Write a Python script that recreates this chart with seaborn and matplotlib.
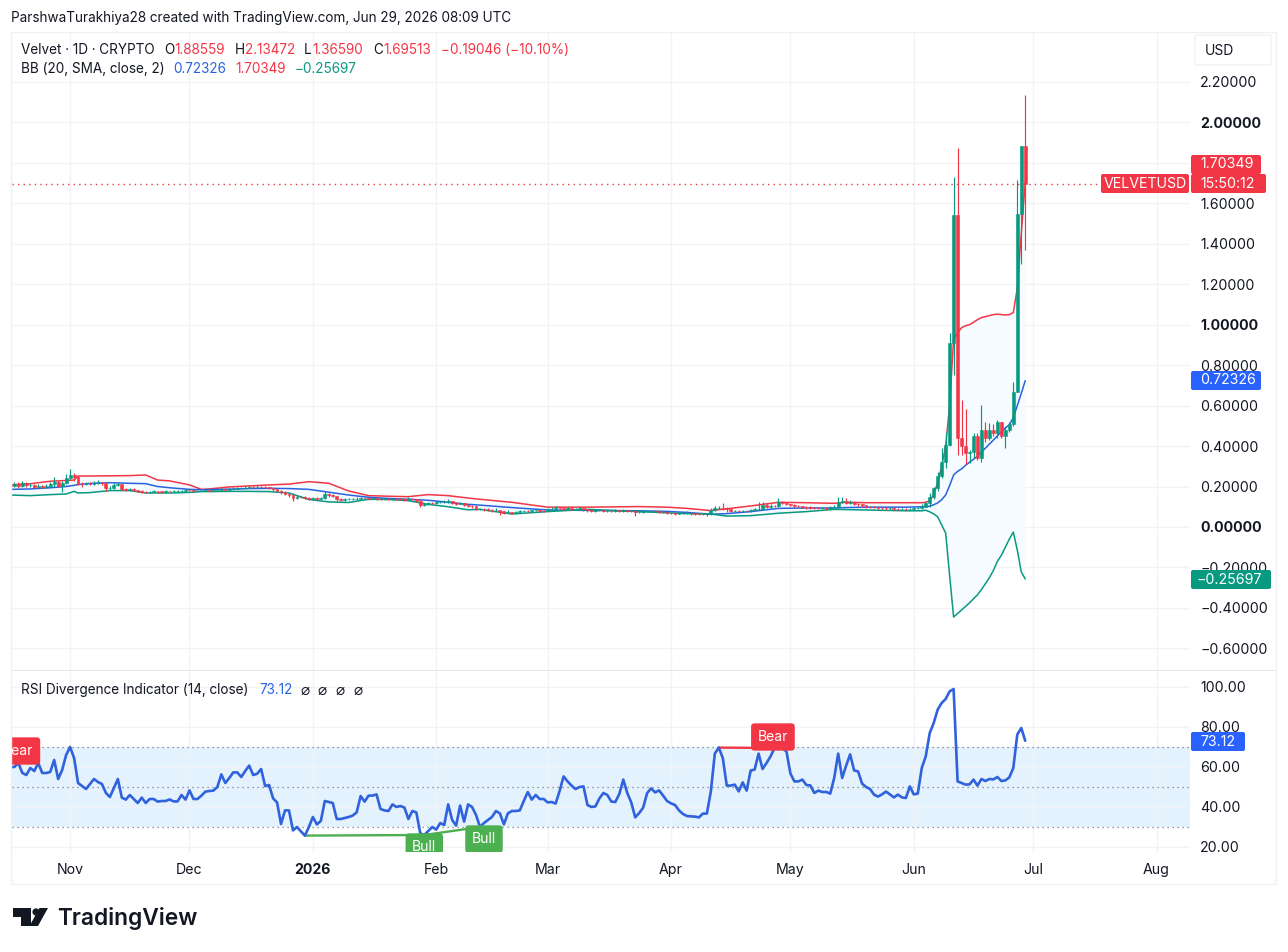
import numpy as np
import pandas as pd
import seaborn as sns
import matplotlib.pyplot as plt
from matplotlib.patches import FancyBboxPatch, Polygon, Circle, Rectangle
from matplotlib.transforms import Affine2D

# daily candles, day 0 = Nov 1 2025, first candle is day -15
close = [
    .205,.212,.203,.216,.206,.208,.200,.205,.197,.204,
    .212,.221,.204,.216,.241,.257,.249,.213,.212,.215,
    .214,.217,.220,.215,.191,.192,.208,.212,.188,.183,
    .186,.184,.178,.175,.173,.174,.178,.176,.175,.177,
    .176,.178,.179,.180,.183,.182,.176,.178,.180,.181,
    .180,.182,.183,.186,.185,.187,.190,.191,.193,.194,
    .199,.198,.200,.199,.197,.195,.187,.180,.172,.165,
    .160,.145,.150,.148,.145,.140,.142,.140,.143,.163,
    .158,.155,.137,.135,.136,.137,.139,.140,.143,.141,
    .140,.142,.140,.139,.140,.138,.139,.137,.136,.135,
    .140,.137,.130,.109,.112,.120,.118,.122,.124,.125,
    .128,.118,.115,.119,.107,.105,.102,.090,.090,.088,
    .085,.083,.086,.078,.070,.076,.070,.075,.080,.081,
    .079,.082,.083,.081,.080,.087,.090,.093,.092,.091,
    .093,.090,.091,.092,.087,.082,.081,.082,.083,.081,
    .081,.080,.082,.080,.083,.081,.079,.072,.075,.078,
    .078,.079,.077,.076,.074,.068,.067,.065,.067,.070,
    .071,.067,.066,.065,.064,.064,.084,.093,.096,.094,
    .087,.080,.080,.079,.081,.080,.084,.088,.090,.109,
    .100,.105,.103,.125,.118,.115,.108,.105,.103,.100,
    .098,.096,.094,.093,.095,.093,.098,.100,.125,.130,
    .120,.124,.115,.112,.108,.100,.099,.097,.095,.094,
    .092,.093,.091,.090,.091,.090,.091,.092,.093,.098,
    .117,.150,.192,.250,.319,.405,.908,1.542,.438,.400,
    .366,.372,.450,.340,.480,.440,.480,.464,.520,.450,
    .480,.510,.668,1.546,1.885,1.695,
]
high = [
    .240,.222,.220,.225,.222,.216,.212,.214,.208,.212,
    .222,.245,.228,.226,.262,.285,.268,.252,.224,.222,
    .224,.226,.232,.224,.218,.204,.218,.222,.212,.192,
    .192,.194,.184,.182,.178,.180,.184,.180,.180,.182,
    .180,.182,.184,.184,.188,.188,.182,.182,.184,.185,
    .186,.186,.188,.192,.192,.194,.196,.198,.200,.202,
    .204,.204,.206,.204,.202,.200,.196,.190,.182,.176,
    .170,.168,.158,.154,.152,.148,.150,.146,.148,.180,
    .168,.162,.155,.142,.142,.142,.144,.146,.150,.146,
    .146,.148,.146,.144,.145,.144,.144,.142,.142,.142,
    .146,.144,.140,.132,.118,.125,.124,.128,.130,.132,
    .136,.130,.122,.124,.120,.110,.108,.105,.096,.094,
    .092,.090,.092,.086,.080,.082,.076,.080,.086,.086,
    .084,.086,.090,.086,.084,.096,.098,.102,.100,.096,
    .098,.096,.096,.098,.095,.090,.086,.088,.090,.086,
    .086,.085,.088,.085,.088,.086,.084,.080,.080,.084,
    .083,.084,.082,.080,.080,.076,.072,.070,.072,.075,
    .078,.074,.071,.070,.068,.068,.095,.105,.106,.118,
    .100,.090,.085,.084,.086,.085,.090,.094,.122,.122,
    .118,.112,.110,.143,.128,.122,.116,.112,.108,.106,
    .104,.102,.100,.098,.100,.098,.104,.110,.148,.150,
    .142,.134,.130,.118,.115,.108,.106,.102,.100,.098,
    .098,.098,.096,.096,.096,.095,.096,.098,.100,.112,
    .125,.167,.200,.274,.390,.470,.960,1.730,1.875,.628,
    .581,.380,.463,.463,.603,.520,.516,.510,.530,.520,
    .496,.520,.719,1.716,1.885,2.135,
]
low = [
    .195,.198,.194,.200,.198,.198,.194,.196,.191,.193,
    .199,.200,.198,.172,.214,.236,.226,.208,.200,.208,
    .208,.209,.212,.208,.178,.182,.189,.205,.182,.176,
    .178,.178,.172,.170,.168,.168,.172,.170,.170,.172,
    .172,.172,.174,.175,.176,.176,.172,.174,.176,.176,
    .176,.178,.180,.181,.181,.183,.184,.187,.188,.190,
    .192,.194,.195,.193,.192,.190,.180,.172,.164,.158,
    .150,.130,.140,.142,.139,.135,.135,.134,.136,.140,
    .150,.148,.130,.130,.130,.132,.134,.135,.136,.136,
    .134,.136,.135,.134,.134,.133,.134,.132,.131,.130,
    .132,.131,.122,.100,.104,.108,.112,.116,.118,.120,
    .120,.112,.108,.112,.102,.098,.096,.085,.084,.080,
    .078,.076,.080,.060,.064,.068,.065,.068,.074,.076,
    .074,.076,.078,.076,.075,.078,.084,.086,.087,.086,
    .086,.085,.086,.086,.080,.076,.076,.076,.078,.076,
    .076,.074,.076,.075,.076,.075,.072,.056,.068,.071,
    .073,.073,.072,.070,.068,.062,.062,.060,.062,.064,
    .066,.061,.060,.060,.058,.056,.058,.080,.088,.084,
    .076,.074,.074,.074,.076,.074,.076,.082,.084,.086,
    .092,.096,.098,.100,.112,.108,.102,.100,.098,.094,
    .090,.090,.088,.088,.088,.086,.090,.094,.096,.118,
    .112,.112,.108,.106,.100,.094,.092,.092,.090,.088,
    .086,.086,.085,.085,.085,.084,.085,.086,.088,.090,
    .100,.100,.140,.180,.240,.290,.400,.750,.355,.355,
    .310,.315,.340,.330,.320,.420,.430,.450,.440,.440,
    .390,.470,.500,.668,1.300,1.370,
]

bb_days = [
    -15,-10,-5,-1,1,2,5,10,15,19,22,25,30,33,35,40,45,50,55,60,65,70,75,80,85,90,95,100,
    103,111,120,130,143,150,155,161,165,171,178,185,192,195,200,205,210,214,
    215,216,217,218,219,220,221,222,223,224,225,226,227,228,229,230,231,232,233,234,235,236,237,238,239,240,
]
bb_upper = [
    .208,.214,.226,.230,.232,.252,.252,.253,.254,.257,.232,.228,.208,.186,.188,.198,.203,.208,.212,.224,.216,.178,.155,.152,.150,.160,.155,.143,
    .137,.122,.098,.098,.101,.098,.092,.081,.090,.104,.122,.120,.117,.122,.120,.120,.120,.120,
    .122,.13,.16,.22,.30,.40,.60,.93,.96,.985,.995,1.0,1.012,1.025,1.035,1.04,1.045,1.05,1.052,1.05,1.048,1.05,1.06,1.18,1.45,1.70349,
]
bb_mid = [
    .186,.188,.194,.200,.206,.210,.215,.219,.216,.214,.200,.194,.186,.184,.185,.187,.190,.191,.190,.186,.172,.158,.147,.141,.137,.132,.122,.112,
    .108,.096,.084,.082,.080,.077,.072,.063,.066,.076,.092,.094,.094,.096,.098,.098,.098,.100,
    .100,.103,.110,.119,.135,.158,.205,.257,.275,.287,.305,.32,.335,.35,.37,.39,.41,.43,.45,.47,.49,.505,.54,.60,.66,.72326,
]
bb_lower = [
    .158,.155,.160,.163,.176,.168,.170,.180,.180,.168,.168,.168,.171,.175,.175,.176,.176,.175,.168,.136,.124,.121,.137,.136,.130,.112,.100,.085,
    .087,.064,.076,.087,.076,.070,.066,.064,.054,.056,.068,.076,.087,.086,.084,.082,.080,.080,
    .083,.075,.065,.05,.01,-.03,-.24,-.445,-.428,-.41,-.393,-.375,-.355,-.335,-.31,-.28,-.25,-.215,-.17,-.14,-.10,-.06,-.025,-.114,-.222,-.25697,
]

rsi = [
    60,60,62,57,56,59.5,58,62,57,57,
    57.5,63.5,54,58.5,66,70,64.5,52,50.5,49,
    51.5,54,52.5,51.5,47,45,49.5,54,44.7,43.7,
    46,44,42,44.7,42,44,44,42.7,43,43,
    43.8,42.8,42.8,46,43.7,48.3,44,44,45.7,47.7,
    48,48.2,50,56.3,52,54.5,57.3,57.3,55,58,
    60.7,56,56.6,59,50.5,51,44.3,42.3,31.5,38.3,
    38.3,28.3,30,27.8,25.7,30,35,31.3,33,43,
    42.5,42,34,34,34.5,35,35.7,37.3,45.5,42.7,
    45.7,45.7,46.3,39,38.3,38,41.3,40,40.5,39.7,
    34,38,37.3,26.8,26,28,30,28.7,32,31,
    41.3,33.5,30.7,40.7,32.7,41.3,40,36,30,32,
    33.5,35,38,36.8,31.3,36.8,38,38,
    38.3,43,47.5,43.7,46,44,44,42.3,42.5,41.7,
    48,55.3,52.8,50.7,49,50,50.3,41,40,40.3,
    44.3,47,46,42.7,42.5,46.5,53.7,47,42.3,34.8,
    37,39.7,47,49.3,47.3,48.3,45.7,43,41.8,41,
    38.3,36.5,35.5,35.3,35.2,34.8,36.7,36.7,47.8,66.7,
    69.7,64.5,50.7,50.7,51.2,47.8,52.3,48.2,58.2,58.7,
    66.7,59,62,65.3,69.5,69.7,69.2,67.8,56.7,52.8,
    52.8,53.7,51,50.8,47,48.2,47.5,47.5,46.7,54.5,
    66.7,54.5,60.7,66.3,58.3,57.8,51.7,50,49,46.2,
    45.2,46.3,47.7,46.3,44.8,46.2,44.8,44.5,50.3,46.3,
    46.7,59.5,65.3,77,82,88.7,92,94,97.8,99,
    52.8,52,51.2,51.3,53.7,50.7,54,53,54,53.8,
    55,53,53.3,54.8,59.5,76.2,79.5,73.12,
]

price_ticks = [2.2,2.0,1.8,1.6,1.4,1.2,1.0,0.8,0.6,0.4,0.2,0.0,-0.2,-0.4,-0.6]
rsi_ticks = [100,80,60,40,20]
month_days = [0,30,61,92,120,151,181,212,242,273]
month_labels = ['Nov','Dec','2026','Feb','Mar','Apr','May','Jun','Jul','Aug']

last_price = 1.69513
GREEN, RED, BLUE = '#089981', '#f23645', '#2962e0'
GRID = '#f2f3f6'
TEXT = '#131722'
W, H = 1288, 952

sns.set_theme(style='white')
plt.rcParams['font.family'] = ['Inter', 'DejaVu Sans']

fig = plt.figure(figsize=(W/100, H/100), dpi=100, facecolor='white')
px = Affine2D().scale(1/W, -1/H).translate(0, 1) + fig.transFigure

def pane(x0, y0, x1, y1):
    return fig.add_axes([x0/W, 1-y1/H, (x1-x0)/W, (y1-y0)/H])

ax = pane(12, 32, 1190, 670)
ax2 = pane(12, 671, 1190, 852)

days = np.arange(-15, -15+len(close))
candles = pd.DataFrame({'day': days, 'close': close, 'high': high, 'low': low})
candles['open'] = candles['close'].shift(1).fillna(.209)
candles.loc[candles['day'] == 240, 'open'] = 1.88559
candles['color'] = np.where(candles['close'] >= candles['open'], GREEN, RED)
bands = pd.DataFrame({'day': bb_days, 'upper': bb_upper, 'mid': bb_mid, 'lower': bb_lower})
rsi_df = pd.DataFrame({'day': days, 'rsi': rsi})

# price pane
ax.fill_between(bands['day'], bands['lower'], bands['upper'], color='#f6fbff', zorder=1, lw=0)
sns.lineplot(data=bands, x='day', y='upper', color=RED, lw=1.1, ax=ax, zorder=3, errorbar=None)
sns.lineplot(data=bands, x='day', y='mid', color=BLUE, lw=1.1, ax=ax, zorder=3, errorbar=None)
sns.lineplot(data=bands, x='day', y='lower', color=GREEN, lw=1.1, ax=ax, zorder=3, errorbar=None)
ax.vlines(candles['day'], candles['low'], candles['high'], colors=candles['color'], lw=0.85, zorder=4)
ax.bar(candles['day'], (candles['close']-candles['open']).abs(),
       bottom=candles[['open','close']].min(axis=1), width=0.72,
       color=candles['color'], edgecolor=candles['color'], lw=0.4, zorder=4)
ax.axhline(last_price, color=RED, lw=1, ls=(0, (1, 3)), zorder=1.5)
ax.set_ylim(-0.707, 2.447)
ax.set_yticks(price_ticks)
ax.set_yticklabels([f'{v:.5f}'.replace('-', '\u2212') for v in price_ticks], ha='left')

# rsi pane
ax2.axhspan(30, 70, color='#e4f2fd', lw=0, zorder=0.5)
for lvl in (70, 50, 30):
    ax2.axhline(lvl, color='#787b86', lw=0.9, ls=(0, (1, 3)), zorder=1)
ax2.plot([59, 89], [25.7, 26], color='#4caf50', lw=1.7, zorder=2)
ax2.plot([89, 103], [26, 30], color='#4caf50', lw=1.7, zorder=2)
ax2.plot([163, 177], [69.7, 69.5], color=RED, lw=1.7, zorder=2)
sns.lineplot(data=rsi_df, x='day', y='rsi', color='#2f62dc', lw=1.9, ax=ax2, zorder=3, errorbar=None)
ax2.set_ylim(17.5, 108)
ax2.set_yticks(rsi_ticks)
ax2.set_yticklabels([f'{v:.2f}' for v in rsi_ticks], ha='left')

for label, d, v, c in [('Bear', -13, 68, RED), ('Bull', 89, 20, '#4caf50'),
                       ('Bull', 104, 24, '#4caf50'), ('Bear', 176.6, 75, RED)]:
    ax2.text(d, v, label, color='white', fontsize=10, ha='center', va='center', zorder=4, clip_on=True,
             bbox=dict(boxstyle='round,pad=0.48,rounding_size=0.25', fc=c, ec=c, lw=0))

for a in (ax, ax2):
    a.set_xlim(-14.6, 281.4)
    a.set_xticks(month_days)
    a.grid(True, color=GRID, lw=1)
    a.set_axisbelow(True)
    a.set_xlabel('')
    a.set_ylabel('')
    a.yaxis.tick_right()
    a.tick_params(axis='y', length=0, pad=7.2, labelsize=10.2, labelcolor=TEXT)
    for s in a.spines.values():
        s.set_visible(False)
for lab, v in zip(ax.get_yticklabels(), price_ticks):
    if round(v, 1) in (2.0, 1.0, 0.0):
        lab.set_fontweight('bold')
ax.tick_params(axis='x', length=0, labelbottom=False)
ax2.set_xticklabels(month_labels)
ax2.tick_params(axis='x', length=0, pad=8, labelsize=10.2, labelcolor=TEXT)
ax2.get_xticklabels()[2].set_fontweight('bold')

# chart chrome, in picture pixels
def ptext(x, y, s, color=TEXT, size=9.75, **kw):
    fig.text(x, y, s, color=color, fontsize=size, transform=px, va='center', **kw)

def badge(x0, y0, x1, y1, color, s, tx=None):
    fig.add_artist(FancyBboxPatch((x0+2, y0+2), x1-x0-4, y1-y0-4, boxstyle='round,pad=2',
                                  fc=color, ec=color, lw=0, transform=px))
    ptext(tx if tx else (x0+x1)/2, (y0+y1)/2, s, color='white', size=10.2, ha='left' if tx else 'center')

fig.add_artist(Rectangle((11.5, 31.5), 1265, 852, fc='none', ec='#eef0f3', lw=1, transform=px))
fig.add_artist(Rectangle((12, 670), 1264, 1, fc='#e6e8ee', ec='none', transform=px))
fig.add_artist(FancyBboxPatch((1196, 36), 74, 28, boxstyle='round,pad=1', fc='white', ec='#f0f2f5', lw=1, transform=px))
ptext(1205, 51, 'USD', size=10)

ptext(11, 18, 'ParshwaTurakhiya28 created with TradingView.com, Jun 29, 2026 08:09 UTC')
ptext(21, 50, 'Velvet \u00b7 1D \u00b7 CRYPTO')
for x, s, c in [(164, 'O', TEXT), (174, '1.88559', RED), (235, 'H', TEXT), (245, '2.13472', RED),
                (304, 'L', TEXT), (312, '1.36590', RED), (373, 'C', TEXT), (383, '1.69513', RED),
                (441, '\u22120.19046 (\u221210.10%)', RED)]:
    ptext(x, 50, s, color=c)
ptext(21, 69, 'BB (20, SMA, close, 2)')
ptext(173, 69, '0.72326', color=BLUE)
ptext(235, 69, '1.70349', color=RED)
ptext(295, 69, '\u22120.25697', color=GREEN)
ptext(21, 690, 'RSI Divergence Indicator (14, close)')
ptext(259, 690, '73.12', color=BLUE)
for x in (305, 322, 340, 358):
    ptext(x, 690, '\u2300', size=11, ha='center', family='DejaVu Sans')

badge(1191, 155, 1261, 174, RED, '1.70349', tx=1200)
badge(1191, 174, 1266, 193, RED, '15:50:12', tx=1200)
badge(1101, 174, 1189, 193, RED, 'VELVETUSD')
badge(1191, 371, 1261, 390, '#2962ff', '0.72326', tx=1200)
badge(1191, 570, 1271, 589, GREEN, '\u22120.25697', tx=1197)
badge(1191, 732, 1245, 751, '#2962ff', '73.12', tx=1200)

# logo
for pts in ([(13,908),(31,908),(31,926),(21,926),(21,917),(13,917)],
            [(39.5,908),(48,908),(38,926),(29.5,926)]):
    fig.add_artist(Polygon(pts, closed=True, fc=TEXT, ec='none', transform=px))
fig.add_artist(Circle((36, 912), 3.6, fc=TEXT, ec='none', transform=px))
ptext(57, 918, 'TradingView', size=16.4, fontweight='semibold')

fig.savefig('out.png', dpi=100)
